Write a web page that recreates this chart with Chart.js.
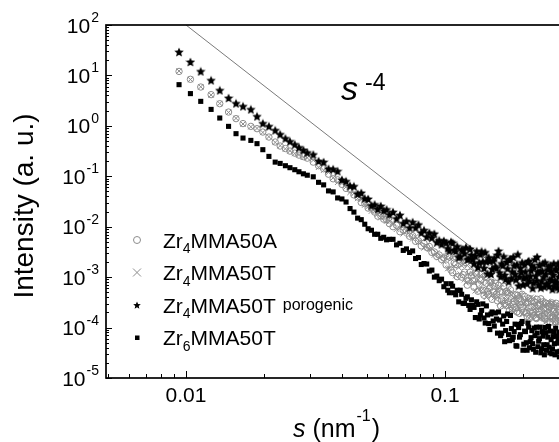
<!DOCTYPE html>
<html><head><meta charset="utf-8">
<script src="https://cdn.jsdelivr.net/npm/chart.js@4/dist/chart.umd.min.js"></script>
<style>
html,body{margin:0;padding:0;background:#fff;overflow:hidden}
#clip{width:559px;height:442px;overflow:hidden;position:relative;background:#fff}
#wrap{width:640px;height:442px;position:absolute;left:0;top:0}
</style></head><body>
<div id="clip"><div id="wrap"><canvas id="c" width="640" height="442"></canvas></div></div>
<script>
// scattering vector s (nm^-1), shared by all four series
const sValues = [
 0.0094,0.0104,0.0114,0.0125,0.0135,0.0146,0.0156,0.0166,0.0178,0.0188,
 0.0198,0.0209,0.0221,0.0231,0.0242,0.0252,0.0263,0.0273,0.0284,0.0294,
 0.0310,0.0325,0.0340,0.0355,0.0370,0.0385,0.0400,0.0415,0.0430,0.0445,
 0.0460,0.0475,0.0490,0.0505,0.0520,0.0535,0.0550,0.0565,0.0580,0.0595,0.0610,
 0.063,0.065,0.067,0.069,0.071,0.073,0.075,0.077,0.079,0.081,
 0.083,0.085,0.087,0.089,0.091,0.093,0.095,0.097,0.099,
 0.101,0.104,0.107,0.110,0.113,0.116,0.119,0.122,0.125,0.128,
 0.131,0.134,0.137,0.140,0.143,0.146,0.149,0.152,0.155,0.158,
 0.161,0.164,0.167,0.170,0.173,0.176,0.179,0.182,0.185,0.188,
 0.191,0.194,0.197,0.200,0.203,0.206,0.209,0.212,0.215,0.218,
 0.221,0.224,0.227,0.230,0.233,0.236,0.239,0.242,0.245,0.248,
 0.251,0.254,0.257,0.260,0.263,0.266,0.269,0.272,0.275,0.278,
 0.1025,0.1055,0.1085,0.1115,0.1145,0.1175,0.1205,0.1235,0.1265,0.1295,
 0.1325,0.1355,0.1385,0.1415,0.1445,0.1475,0.1505,0.1535,0.1565,0.1595,
 0.1625,0.1655,0.1685,0.1715,0.1745,0.1775,0.1805,0.1835,0.1865,0.1895,
 0.1925,0.1955,0.1985,0.2015,0.2045,0.2075,0.2105,0.2135,0.2165,0.2195,
 0.2225,0.2255,0.2285,0.2315,0.2345,0.2375,0.2405,0.2435,0.2465,0.2495,
 0.2525,0.2555,0.2585,0.2615,0.2645,0.2675,0.2705,0.2735,0.2765,0.2795
];
// Zr4MMA50A (open circles)
const zr4MMA50A = [
 12.0,8.38,5.89,4.16,2.75,1.88,1.39,1.11,0.977,0.879,
 0.754,0.60,0.478,0.398,0.355,0.316,0.288,0.263,0.245,0.229,
 0.191,0.162,0.141,0.110,0.0891,0.0851,0.0692,0.0575,0.0550,0.0427,
 0.0389,0.0302,0.0288,0.0234,0.0234,0.0195,0.0162,0.0166,0.0141,0.0138,0.0115,
 0.0100,0.0107,7.94e-3,8.51e-3,8.32e-3,6.46e-3,6.61e-3,5.13e-3,5.25e-3,4.17e-3,
 4.68e-3,3.89e-3,4.07e-3,3.09e-3,3.16e-3,2.57e-3,2.75e-3,2.24e-3,2.40e-3,
 1.74e-3,2.51e-3,1.23e-3,1.78e-3,2.19e-3,1.0e-3,1.26e-3,6.92e-4,1.26e-3,8.51e-4,
 1.20e-3,5.25e-4,8.71e-4,5.50e-4,1.02e-3,5.25e-4,6.03e-4,3.63e-4,6.61e-4,4.57e-4,
 6.92e-4,2.69e-4,5.01e-4,3.02e-4,5.25e-4,3.24e-4,5.62e-4,2.34e-4,3.31e-4,2.51e-4,
 4.37e-4,1.91e-4,3.24e-4,2.57e-4,4.17e-4,1.95e-4,3.16e-4,1.51e-4,3.31e-4,2.04e-4,
 2.63e-4,1.58e-4,3.63e-4,1.82e-4,2.88e-4,2.14e-4,3.24e-4,1.55e-4,2.40e-4,1.32e-4,
 2.63e-4,1.70e-4,2.88e-4,1.51e-4,2.09e-4,1.32e-4,3.02e-4,1.78e-4,2.29e-4,1.35e-4,
 2.63e-3,1.38e-3,1.91e-3,1.02e-3,2.09e-3,1.12e-3,1.95e-3,8.51e-4,1.05e-3,6.31e-4,
 1.15e-3,7.24e-4,1.15e-3,4.37e-4,7.59e-4,4.57e-4,7.94e-4,5.13e-4,7.59e-4,3.39e-4,
 5.13e-4,3.55e-4,6.61e-4,2.75e-4,4.90e-4,2.19e-4,3.72e-4,2.88e-4,4.47e-4,2.04e-4,
 3.72e-4,2.82e-4,4.57e-4,2.04e-4,3.09e-4,1.66e-4,3.80e-4,2.09e-4,2.51e-4,1.74e-4,
 3.16e-4,1.51e-4,2.75e-4,2.04e-4,3.72e-4,1.70e-4,2.40e-4,1.48e-4,3.02e-4,1.95e-4,
 2.63e-4,1.26e-4,3.09e-4,1.62e-4,2.29e-4,1.48e-4,2.04e-4,1.32e-4,2.63e-4,1.66e-4
];
// Zr4MMA50T (crosses)
const zr4MMA50T = [
 12.2,8.3,5.95,4.1,2.78,1.85,1.41,1.09,0.96,0.89,
 0.74,0.61,0.47,0.405,0.35,0.32,0.283,0.268,0.24,0.232,
 0.209,0.151,0.132,0.120,0.0933,0.0759,0.0724,0.0617,0.0479,0.0457,
 0.0363,0.0347,0.0269,0.0251,0.0204,0.0204,0.0178,0.0151,0.0155,0.0129,0.0126,
 0.0115,8.91e-3,9.33e-3,7.24e-3,8.13e-3,6.92e-3,5.75e-3,6.31e-3,4.90e-3,5.01e-3,
 3.80e-3,4.17e-3,3.55e-3,3.63e-3,2.75e-3,3.02e-3,2.45e-3,2.63e-3,2.04e-3,
 2.40e-3,1.51e-3,2.40e-3,1.07e-3,1.55e-3,1.70e-3,8.91e-4,1.70e-3,8.71e-4,1.15e-3,
 5.37e-4,8.71e-4,1.07e-3,5.75e-4,4.68e-4,7.94e-4,5.37e-4,8.32e-4,3.89e-4,5.62e-4,
 4.07e-4,6.17e-4,2.75e-4,5.01e-4,3.55e-4,5.50e-4,2.63e-4,3.72e-4,2.0e-4,4.17e-4,
 2.57e-4,3.09e-4,4.17e-4,1.91e-4,3.24e-4,2.57e-4,3.55e-4,2.04e-4,3.98e-4,1.55e-4,
 2.75e-4,3.09e-4,1.70e-4,2.45e-4,1.51e-4,3.31e-4,1.91e-4,2.69e-4,1.29e-4,2.95e-4,
 1.91e-4,2.51e-4,1.45e-4,3.16e-4,1.58e-4,2.24e-4,1.62e-4,2.63e-4,1.26e-4,2.45e-4,
 1.48e-3,2.29e-3,1.66e-3,2.34e-3,1.15e-3,1.78e-3,7.76e-4,1.17e-3,1.58e-3,7.94e-4,
 1.10e-3,5.50e-4,7.59e-4,9.55e-4,3.98e-4,6.92e-4,4.27e-4,7.94e-4,4.47e-4,5.89e-4,
 3.09e-4,7.24e-4,3.47e-4,4.17e-4,2.75e-4,4.79e-4,2.19e-4,4.79e-4,3.02e-4,3.63e-4,
 2.34e-4,4.57e-4,1.86e-4,3.02e-4,2.34e-4,3.72e-4,1.55e-4,3.16e-4,1.82e-4,3.89e-4,
 2.34e-4,1.91e-4,3.39e-4,1.48e-4,2.51e-4,2.95e-4,1.55e-4,2.57e-4,1.95e-4,3.31e-4,
 1.58e-4,2.19e-4,2.95e-4,1.23e-4,2.57e-4,1.70e-4,3.02e-4,1.86e-4,1.32e-4,2.34e-4
];
// Zr4MMA50T porogenic (filled stars)
const zr4MMA50TPorogenic = [
 29.1,18.5,12.0,8.0,5.06,3.56,2.79,2.44,2.12,1.54,
 1.12,0.977,0.815,0.676,0.562,0.49,0.427,0.372,0.331,0.295,
 0.269,0.200,0.191,0.141,0.138,0.126,0.0851,0.0794,0.0646,0.0631,
 0.0447,0.0468,0.0363,0.0355,0.0263,0.0275,0.0224,0.0257,0.0209,0.0219,0.0174,
 0.0195,0.0145,0.0170,0.0117,0.0129,9.55e-3,0.0123,9.55e-3,0.0110,7.59e-3,
 8.51e-3,6.31e-3,7.59e-3,6.03e-3,7.24e-3,4.90e-3,5.37e-3,4.47e-3,5.25e-3,
 4.79e-3,3.35e-3,4.79e-3,3.27e-3,2.48e-3,3.55e-3,2.95e-3,2.24e-3,3.63e-3,2.24e-3,
 2.63e-3,1.57e-3,2.82e-3,2.02e-3,3.09e-3,1.17e-3,2.09e-3,1.45e-3,2.37e-3,1.51e-3,
 3.31e-3,1.02e-3,1.70e-3,1.10e-3,2.0e-3,8.13e-4,2.29e-3,1.29e-3,1.70e-3,8.91e-4,
 2.82e-3,1.02e-3,1.26e-3,7.08e-4,1.78e-3,1.0e-3,2.0e-3,8.51e-4,1.35e-3,6.03e-4,
 1.55e-3,1.05e-3,2.51e-3,7.08e-4,1.29e-3,8.32e-4,1.86e-3,6.46e-4,1.15e-3,7.24e-4,
 1.62e-3,8.91e-4,1.32e-3,5.75e-4,1.86e-3,8.13e-4,1.38e-3,6.31e-4,1.02e-3,1.62e-3,
 3.72e-3,5.01e-3,3.47e-3,4.07e-3,2.57e-3,3.39e-3,3.89e-3,2.29e-3,2.75e-3,1.86e-3,
 3.27e-3,1.95e-3,3.24e-3,1.51e-3,2.04e-3,2.45e-3,1.15e-3,2.11e-3,1.62e-3,2.75e-3,
 1.23e-3,1.86e-3,2.57e-3,9.12e-4,1.48e-3,2.19e-3,9.55e-4,2.51e-3,1.15e-3,1.78e-3,
 6.76e-4,1.51e-3,1.95e-3,9.55e-4,1.29e-3,7.41e-4,2.09e-3,1.05e-3,1.70e-3,7.76e-4,
 2.24e-3,8.51e-4,1.26e-3,1.74e-3,6.17e-4,1.32e-3,1.0e-3,1.95e-3,7.41e-4,1.41e-3,
 6.61e-4,1.70e-3,8.71e-4,1.10e-3,6.61e-4,1.48e-3,7.94e-4,1.86e-3,5.75e-4,1.20e-3
];
// Zr6MMA50T (filled squares)
const zr6MMA50T = [
 6.56,4.36,3.06,2.12,1.43,0.977,0.70,0.573,0.515,0.444,
 0.337,0.248,0.191,0.180,0.162,0.148,0.135,0.123,0.112,0.105,
 0.0977,0.0759,0.0676,0.0513,0.0490,0.0372,0.0355,0.0309,0.0229,0.0195,
 0.0148,0.0138,0.0112,9.12e-3,8.51e-3,7.08e-3,7.08e-3,5.89e-3,6.17e-3,5.50e-3,5.62e-3,
 5.62e-3,4.37e-3,4.68e-3,3.39e-3,3.63e-3,3.09e-3,3.31e-3,2.34e-3,2.45e-3,1.78e-3,
 1.86e-3,1.82e-3,1.32e-3,1.38e-3,1.0e-3,1.05e-3,8.51e-4,9.12e-4,6.46e-4,
 7.41e-4,4.90e-4,6.61e-4,4.47e-4,3.24e-4,4.57e-4,3.02e-4,4.07e-4,2.29e-4,2.75e-4,
 1.58e-4,2.88e-4,1.78e-4,2.95e-4,1.23e-4,1.78e-4,9.12e-5,2.04e-4,1.07e-4,1.48e-4,
 2.04e-4,6.92e-5,1.17e-4,5.25e-5,1.32e-4,7.24e-5,1.74e-4,5.75e-5,8.32e-5,4.37e-5,
 1.15e-4,6.46e-5,1.20e-4,3.55e-5,8.51e-5,5.01e-5,1.23e-4,3.98e-5,6.31e-5,4.79e-5,
 9.77e-5,3.24e-5,7.76e-5,5.37e-5,1.02e-4,3.80e-5,6.76e-5,2.88e-5,7.94e-5,4.57e-5,
 1.05e-4,3.16e-5,5.75e-5,3.80e-5,8.13e-5,2.88e-5,6.76e-5,4.90e-5,8.13e-5,3.39e-5,
 5.50e-4,7.41e-4,4.90e-4,5.50e-4,5.50e-4,3.02e-4,3.80e-4,2.75e-4,3.55e-4,2.51e-4,
 3.24e-4,1.48e-4,2.19e-4,1.55e-4,2.69e-4,1.20e-4,1.86e-4,1.35e-4,1.95e-4,7.76e-5,
 1.41e-4,7.76e-5,1.70e-4,8.71e-5,1.86e-4,5.50e-5,9.55e-5,6.46e-5,1.17e-4,4.27e-5,
 1.0e-4,7.24e-5,1.32e-4,4.68e-5,8.32e-5,3.55e-5,1.02e-4,5.25e-5,8.71e-5,3.72e-5,
 6.92e-5,1.02e-4,4.17e-5,6.03e-5,3.16e-5,8.32e-5,4.57e-5,1.0e-4,3.55e-5,6.46e-5,
 4.07e-5,8.51e-5,3.02e-5,6.61e-5,4.79e-5,9.77e-5,3.31e-5,5.89e-5,2.63e-5,7.08e-5
];
// s^-4 guide line end points
const guideS = [0.01, 0.15];
const guideI = [100, 1.975e-3];
// axis ticks
const xTickValues = [0.01, 0.1];
const xTickLabels = ['0.01', '0.1'];
const yTickExponents = [2, 1, 0, -1, -2, -3, -4, -5];
// legend text pieces
const legendSub = ['4', '4', '4', '6'];
const legendMain = ['MMA50A', 'MMA50T', 'MMA50T', 'MMA50T'];
const legendExtra = ['', '', 'porogenic', ''];

const FONT = "'Liberation Sans', Arial, Helvetica, sans-serif";
const GRAY = '#8c8c8c';

function makeStar(size) {
  const c = document.createElement('canvas');
  c.width = c.height = size;
  const g = c.getContext('2d');
  const cx = size / 2, cy = size / 2 + 0.4, R = size / 2, r = R * 0.45;
  g.beginPath();
  for (let i = 0; i < 10; i++) {
    const a = -Math.PI / 2 + i * Math.PI / 5;
    const rr = i % 2 ? r : R;
    g.lineTo(cx + rr * Math.cos(a), cy + rr * Math.sin(a));
  }
  g.closePath();
  g.fillStyle = '#000';
  g.fill();
  return c;
}
const starImg = makeStar(10);
const starLegend = makeStar(8);

const pts = arr => sValues.map((s, i) => ({ x: s, y: arr[i] }));

const decor = {
  id: 'decor',
  afterDatasetsDraw(chart) {
    const { ctx, chartArea: a, scales: { x, y } } = chart;
    ctx.save();
    ctx.strokeStyle = '#000';
    ctx.fillStyle = '#000';
    ctx.lineWidth = 1;
    ctx.beginPath();
    for (let e = -5; e <= 2; e++) {
      for (let m = 1; m <= 9; m++) {
        const v = m * Math.pow(10, e);
        if (v > 100.0001) break;
        const py = Math.round(y.getPixelForValue(v)) + 0.5;
        const len = m === 1 ? 6 : 3;
        ctx.moveTo(a.left, py); ctx.lineTo(a.left + len, py);
        ctx.moveTo(a.right, py); ctx.lineTo(a.right - len, py);
      }
    }
    for (let e = -3; e <= -1; e++) {
      for (let m = 1; m <= 9; m++) {
        const v = m * Math.pow(10, e);
        if (v < x.min || v > x.max) continue;
        const px = Math.round(x.getPixelForValue(v)) + 0.5;
        const len = m === 1 ? 7 : 4;
        ctx.moveTo(px, a.bottom); ctx.lineTo(px, a.bottom - len);
      }
    }
    ctx.stroke();
    ctx.lineWidth = 1.7;
    ctx.strokeRect(a.left, a.top, a.right - a.left, a.bottom - a.top);

    ctx.textBaseline = 'alphabetic';
    ctx.textAlign = 'left';
    yTickExponents.forEach(e => {
      const py = y.getPixelForValue(Math.pow(10, e));
      ctx.font = `21px ${FONT}`;
      const w10 = ctx.measureText('10').width;
      ctx.font = `14px ${FONT}`;
      const es = String(e);
      const we = ctx.measureText(es).width;
      const x0 = 99 - we - w10 - 1;
      ctx.font = `21px ${FONT}`;
      ctx.fillText('10', x0, py + 7.5);
      ctx.font = `14px ${FONT}`;
      ctx.fillText(es, x0 + w10 + 1, py - 3);
    });
    ctx.font = `21px ${FONT}`;
    ctx.textAlign = 'center';
    xTickValues.forEach((v, i) => {
      ctx.fillText(xTickLabels[i], x.getPixelForValue(v), 402);
    });

    ctx.textAlign = 'left';
    let cx = 293;
    ctx.font = `italic 25px ${FONT}`;
    ctx.fillText('s', cx, 437);
    cx += ctx.measureText('s').width;
    ctx.font = `25px ${FONT}`;
    ctx.fillText(' (nm', cx, 437);
    cx += ctx.measureText(' (nm').width + 1;
    ctx.font = `16px ${FONT}`;
    ctx.fillText('-1', cx, 421);
    cx += ctx.measureText('-1').width + 1;
    ctx.font = `25px ${FONT}`;
    ctx.fillText(')', cx, 437);

    ctx.save();
    ctx.translate(25, 206);
    ctx.rotate(-Math.PI / 2);
    ctx.textAlign = 'center';
    ctx.textBaseline = 'middle';
    ctx.font = `28px ${FONT}`;
    ctx.fillText('Intensity (a. u.)', 0, 0);
    ctx.restore();

    ctx.textAlign = 'left';
    ctx.font = `italic 34px ${FONT}`;
    ctx.fillText('s', 341, 100);
    ctx.font = `23px ${FONT}`;
    ctx.fillText('-4', 365, 90);

    const rows = [240, 272.5, 305, 337.5];
    const sx = 137;
    rows.forEach((ry, i) => {
      ctx.save();
      if (i === 0) {
        ctx.strokeStyle = GRAY; ctx.lineWidth = 1;
        ctx.beginPath(); ctx.arc(sx, ry, 3.5, 0, Math.PI * 2); ctx.stroke();
      } else if (i === 1) {
        ctx.strokeStyle = GRAY; ctx.lineWidth = 1;
        ctx.beginPath();
        ctx.moveTo(sx - 4, ry - 4); ctx.lineTo(sx + 4, ry + 4);
        ctx.moveTo(sx + 4, ry - 4); ctx.lineTo(sx - 4, ry + 4);
        ctx.stroke();
      } else if (i === 2) {
        ctx.drawImage(starLegend, sx - 4, ry - 4);
      } else {
        ctx.fillRect(sx - 2, ry - 2, 4.5, 4.5);
      }
      ctx.restore();
      let tx = 163;
      ctx.font = `21px ${FONT}`;
      ctx.fillText('Zr', tx, ry + 7.5);
      tx += ctx.measureText('Zr').width;
      ctx.font = `14px ${FONT}`;
      ctx.fillText(legendSub[i], tx, ry + 13);
      tx += ctx.measureText(legendSub[i]).width;
      ctx.font = `21px ${FONT}`;
      ctx.fillText(legendMain[i], tx, ry + 7.5);
      tx += ctx.measureText(legendMain[i]).width;
      if (legendExtra[i]) {
        ctx.font = `16px ${FONT}`;
        ctx.fillText(legendExtra[i], tx + 7, ry + 5);
      }
    });
    ctx.restore();
  }
};

new Chart(document.getElementById('c'), {
  type: 'scatter',
  data: {
    datasets: [
      { label: 's^-4', data: guideS.map((s, i) => ({ x: s, y: guideI[i] })), showLine: true,
        borderColor: '#7a7a7a', borderWidth: 1, pointRadius: 0, order: 5 },
      { label: 'Zr4MMA50A', data: pts(zr4MMA50A), pointStyle: 'circle', pointRadius: 3.2,
        borderColor: GRAY, backgroundColor: 'rgba(0,0,0,0)', borderWidth: 1, order: 4 },
      { label: 'Zr4MMA50T', data: pts(zr4MMA50T), pointStyle: 'crossRot', pointRadius: 3.8,
        borderColor: GRAY, backgroundColor: GRAY, borderWidth: 1, order: 3 },
      { label: 'Zr4MMA50T porogenic', data: pts(zr4MMA50TPorogenic), pointStyle: starImg, pointRadius: 5,
        borderColor: '#000', backgroundColor: '#000', order: 1 },
      { label: 'Zr6MMA50T', data: pts(zr6MMA50T), pointStyle: 'rect', pointRadius: 3.6,
        borderColor: '#000', backgroundColor: '#000', borderWidth: 0, order: 2 }
    ]
  },
  options: {
    responsive: false,
    animation: false,
    devicePixelRatio: 1,
    layout: { padding: { left: 106, top: 25, right: 14, bottom: 64 } },
    scales: {
      x: { type: 'logarithmic', min: 0.004910, max: 0.5, display: false },
      y: { type: 'logarithmic', min: 1e-5, max: 100, display: false }
    },
    plugins: { legend: { display: false }, tooltip: { enabled: false } },
    events: []
  },
  plugins: [decor]
});
</script>
</body></html>
